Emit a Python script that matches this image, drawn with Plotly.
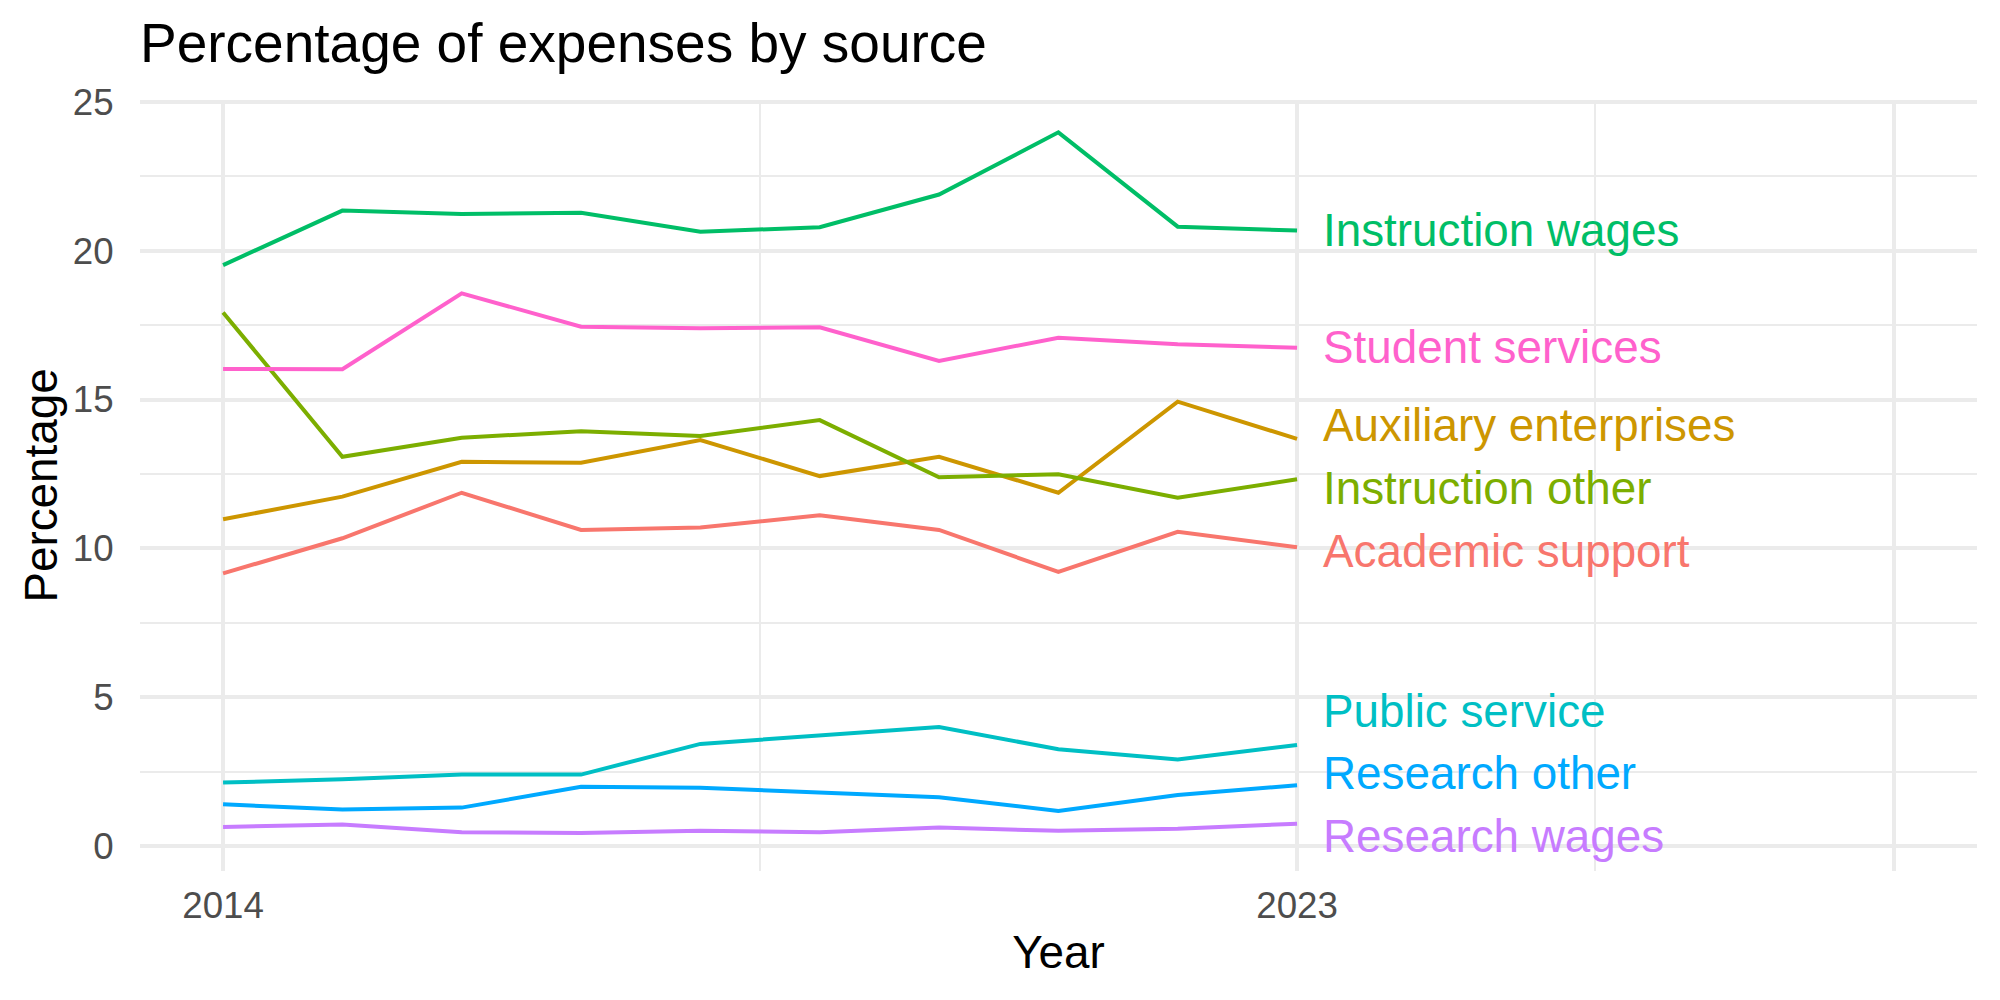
import plotly.graph_objects as go

years = [2014, 2015, 2016, 2017, 2018, 2019, 2020, 2021, 2022, 2023]

academic_support = [9.16, 10.34, 11.87, 10.62, 10.70, 11.11, 10.62, 9.21, 10.56, 10.04]
auxiliary_enterprises = [10.98, 11.74, 12.91, 12.88, 13.64, 12.43, 13.08, 11.87, 14.93, 13.68]
instruction_other = [17.93, 13.08, 13.72, 13.94, 13.78, 14.31, 12.39, 12.49, 11.70, 12.32]
instruction_wages = [19.52, 21.35, 21.24, 21.28, 20.64, 20.79, 21.89, 23.98, 20.81, 20.68]
public_service = [2.13, 2.24, 2.40, 2.40, 3.43, 3.71, 4.00, 3.25, 2.91, 3.39]
research_other = [1.40, 1.23, 1.29, 1.99, 1.96, 1.80, 1.64, 1.18, 1.71, 2.04]
research_wages = [0.64, 0.72, 0.46, 0.44, 0.51, 0.46, 0.62, 0.51, 0.58, 0.75]
student_services = [16.03, 16.02, 18.57, 17.45, 17.40, 17.43, 16.30, 17.08, 16.86, 16.74]

source_names = ["Academic support", "Auxiliary enterprises", "Instruction other",
                "Instruction wages", "Public service", "Research other",
                "Research wages", "Student services"]
source_values = [academic_support, auxiliary_enterprises, instruction_other,
                 instruction_wages, public_service, research_other,
                 research_wages, student_services]
colors = ["#F8766D", "#CD9600", "#7CAE00", "#00BE67", "#00BFC4", "#00A9FF",
          "#C77CFF", "#FF61CC"]

x_ticks = [2014, 2023, 2028]
x_ticktext = ["2014", "2023", ""]
x_minor = [2018.5, 2025.5]

FONT = "Liberation Sans, Arial, Helvetica, sans-serif"
X_RANGE = [2013.304, 2028.698]
Y_RANGE = [-0.84, 25.067]

# simple label repel: keep labels at least GAP apart and inside the panel
GAP = 2.11
LO = Y_RANGE[0] + 1.15
ends = [v[-1] for v in source_values]
order = sorted(range(len(ends)), key=lambda i: ends[i])
z = [ends[i] - k * GAP for k, i in enumerate(order)]
blocks = []
for val in z:
    blocks.append([val, 1])
    while len(blocks) > 1 and blocks[-2][0] > blocks[-1][0]:
        v2, n2 = blocks.pop()
        v1, n1 = blocks.pop()
        blocks.append([(v1 * n1 + v2 * n2) / (n1 + n2), n1 + n2])
zfit = []
for v, n in blocks:
    zfit += [max(v, LO)] * n
label_y = [0.0] * len(ends)
for k, i in enumerate(order):
    label_y[i] = zfit[k] + k * GAP

fig = go.Figure()
for name, vals, col in zip(source_names, source_values, colors):
    fig.add_trace(go.Scatter(x=years, y=vals, mode="lines", name=name,
                             line=dict(color=col, width=4), showlegend=False))

for name, col, ly in zip(source_names, colors, label_y):
    fig.add_annotation(x=years[-1] + 0.2, y=ly, text=name, showarrow=False,
                       xanchor="left", yanchor="middle",
                       font=dict(family=FONT, size=45.8, color=col))

fig.update_layout(
    width=2000, height=1000,
    margin=dict(l=140, r=23, t=100, b=129),
    paper_bgcolor="white", plot_bgcolor="white",
    font=dict(family=FONT),
    title=dict(text="Percentage of expenses by source", x=0.07, xanchor="left",
               xref="container", y=0.957, yref="container", yanchor="middle",
               font=dict(family=FONT, size=55, color="black")),
)
fig.update_xaxes(
    range=X_RANGE, tickvals=x_ticks, ticktext=x_ticktext,
    showgrid=True, gridcolor="#EBEBEB", gridwidth=4,
    ticks="outside", ticklen=2, tickcolor="rgba(0,0,0,0)",
    tickfont=dict(family=FONT, size=36.7, color="#4D4D4D"),
    minor=dict(tickvals=x_minor, showgrid=True, gridcolor="#EBEBEB", gridwidth=2),
    zeroline=False, showline=False,
    title=dict(text="Year", font=dict(family=FONT, size=45.8, color="black"), standoff=10),
)
fig.update_yaxes(
    range=Y_RANGE, tickvals=[0, 5, 10, 15, 20, 25],
    showgrid=True, gridcolor="#EBEBEB", gridwidth=4,
    ticks="outside", ticklen=18, tickcolor="rgba(0,0,0,0)",
    tickfont=dict(family=FONT, size=36.7, color="#4D4D4D"),
    minor=dict(tickvals=[2.5, 7.5, 12.5, 17.5, 22.5], showgrid=True,
               gridcolor="#EBEBEB", gridwidth=2),
    zeroline=False, showline=False,
    title=dict(text="Percentage", font=dict(family=FONT, size=45.8, color="black"), standoff=0),
)

fig.write_html("out.html")
